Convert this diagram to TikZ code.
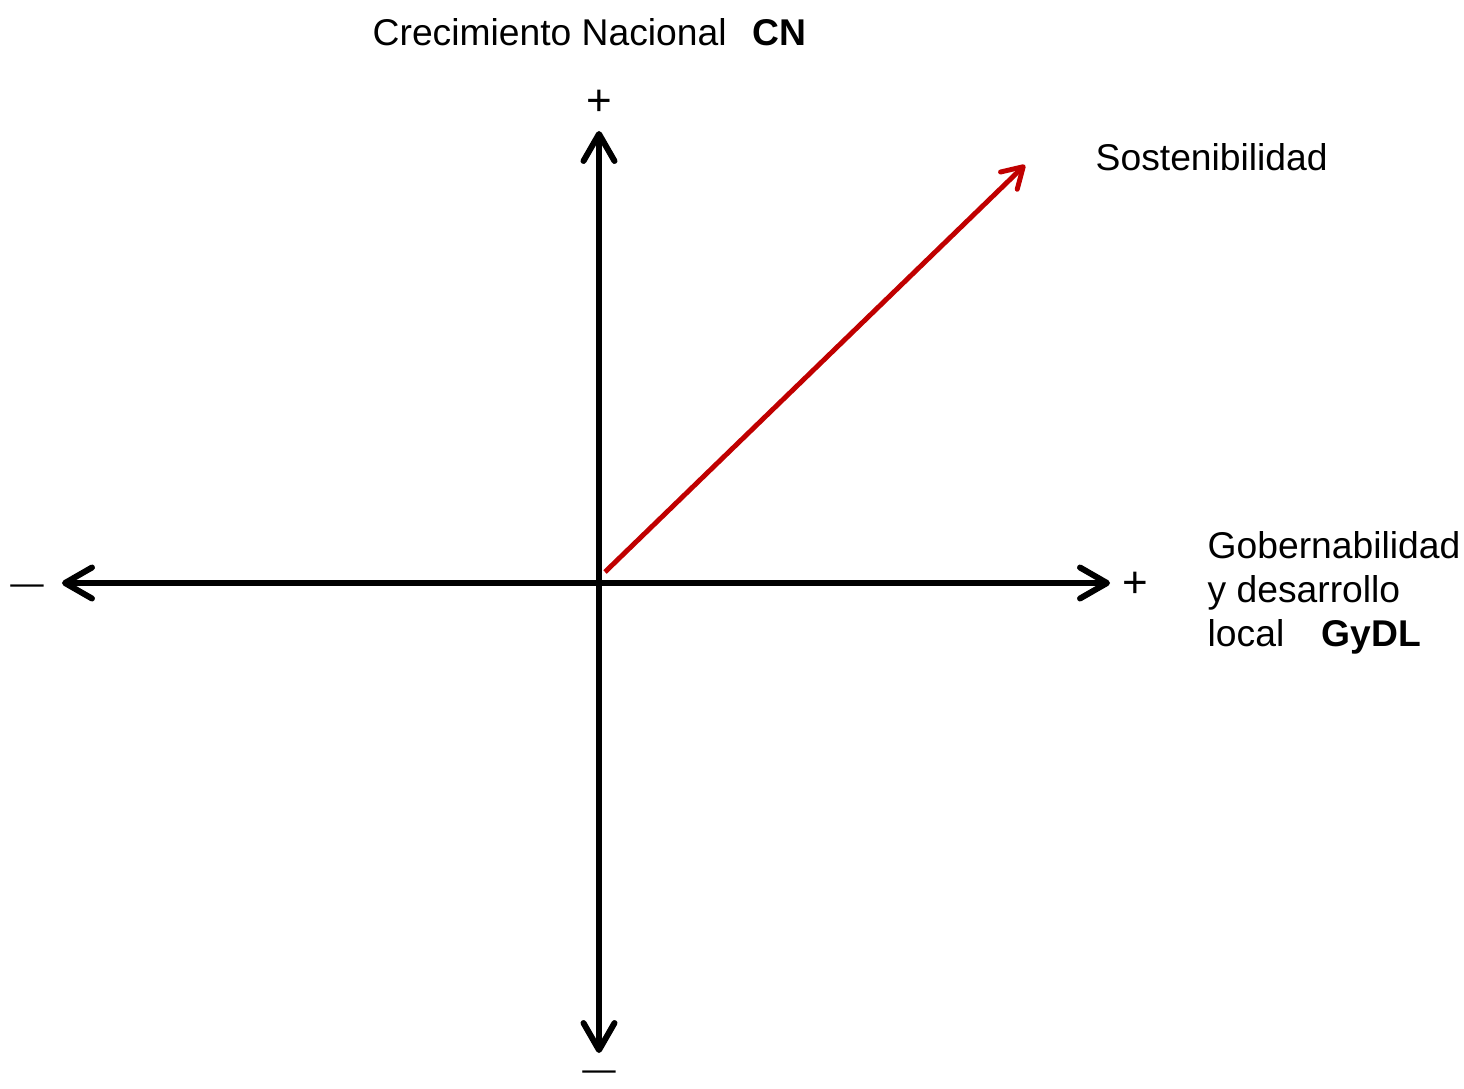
\documentclass[tikz,border=0pt]{standalone}
\usepackage{fontspec}
\setmainfont{Liberation Sans}
\usetikzlibrary{arrows.meta}
\definecolor{sostred}{RGB}{192,0,0}

\tikzset{
  barb/.tip={Straight Barb[length=2.7mm,width=3.1mm,line cap=round,line join=round]},
  smallbarb/.tip={Straight Barb[length=2mm,width=2.4mm,line cap=round,line join=round]},
  axis/.style={line width=1.7pt},
  lbl/.style={font=\fontsize{10.6}{12.6}\selectfont, inner sep=0pt},
  sign/.style={font=\fontsize{12.5}{14}\selectfont, inner sep=0pt},
  dash sign/.style={font=\fontsize{9.5}{12}\selectfont, inner sep=0pt},
}

\begin{document}
\begin{tikzpicture}
            \useasboundingbox (-5.99,-5.05) rectangle (8.65,5.83);
            % axes
            \coordinate (o) at (0,0);
            \coordinate (w) at (-5.37,0);
            \coordinate (e) at (5.11,0);
            \coordinate (n) at (0,4.52);
            \coordinate (s) at (0,-4.70);
            \draw[axis,barb-barb] (w) -- (e);
            \draw[axis,barb-barb] (s) -- (n);
            % vector
            \coordinate (v0) at (0.06,0.11);
            \coordinate (v1) at (4.26,4.18);
            \draw[sostred,line width=1.4pt,-smallbarb] (v0) -- (v1);
            % signs
            \node[sign] (pn) at (0,4.80) {+};
            \node[sign] (pe) at (5.36,-0.02) {+};
            \node[dash sign] (mw) at (-5.72,-0.07) {—};
            \node[dash sign] (ms) at (0,-4.93) {—};
            % labels
            \node[lbl,anchor=west] (cn) at (-2.27,5.51) {Crecimiento Nacional\hspace{0.7em}\textbf{CN}};
            \node[lbl,anchor=west] (sost) at (4.96,4.26) {Sostenibilidad};
            \node[lbl,anchor=west,align=left] (gydl) at (6.08,-0.10) {Gobernabilidad\\y desarrollo\\local\quad\textbf{GyDL}};
        \end{tikzpicture}
\end{document}
